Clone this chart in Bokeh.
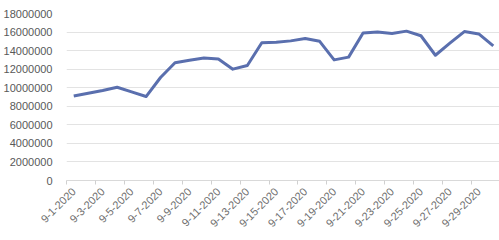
import math
from bokeh.plotting import figure
from bokeh.models import Range1d, FixedTicker, ColumnDataSource
from bokeh.embed import file_html
from bokeh.resources import INLINE

days = list(range(1, 31))
dates = [f"9-{d}-2020" for d in days]
values = [9100000, 9400000, 9700000, 10050000, 9550000, 9050000, 11100000, 12700000,
          12950000, 13200000, 13100000, 12000000, 12400000, 14850000, 14900000, 15050000,
          15300000, 15000000, 13000000, 13300000, 15900000, 16000000, 15850000, 16100000,
          15600000, 13500000, 14800000, 16050000, 15800000, 14500000]
y_ticks = list(range(0, 18000001, 2000000))

src = ColumnDataSource(dict(x=days, y=values, label=dates))

p = figure(width=499, height=240, output_backend="svg", toolbar_location=None,
           x_range=Range1d(0.5, 30.5), y_range=Range1d(0, 18000000),
           min_border_left=63, min_border_right=2, min_border_top=13, min_border_bottom=60)
p.frame_width = 434
p.frame_height = 167
p.outline_line_color = None
p.background_fill_color = "white"
p.border_fill_color = "white"

p.line("x", "y", source=src, line_color="#5a6fae", line_width=3, line_join="round")

label_days = days[::2]
p.xaxis.ticker = FixedTicker(ticks=label_days, minor_ticks=[d - 0.5 for d in label_days] + [30.5])
p.xaxis.major_label_overrides = {d: dates[d - 1] for d in label_days}
p.xaxis.major_label_orientation = math.pi / 4
p.xaxis.major_tick_line_color = None
p.xaxis.minor_tick_line_color = "#d0d0d0"
p.xaxis.minor_tick_out = 4
p.xaxis.minor_tick_in = 0
p.xaxis.axis_line_color = "#d9d9d9"
p.xaxis.major_label_text_font = "Liberation Sans"
p.xaxis.major_label_text_font_size = "11px"
p.xaxis.major_label_text_color = "#707070"
p.xaxis.major_label_standoff = 3
p.xgrid.grid_line_color = None

p.yaxis.ticker = FixedTicker(ticks=y_ticks)
p.yaxis.major_label_overrides = {t: str(t) for t in y_ticks}
p.yaxis.axis_line_color = None
p.yaxis.major_tick_line_color = None
p.yaxis.minor_tick_line_color = None
p.yaxis.major_label_text_font = "Liberation Sans"
p.yaxis.major_label_text_font_size = "11px"
p.yaxis.major_label_text_color = "#595959"
p.yaxis.major_label_standoff = 8
p.ygrid.grid_line_color = "#e3e3e3"
p.ygrid.grid_line_width = 1

open("out.html", "w").write(file_html(p, INLINE))
